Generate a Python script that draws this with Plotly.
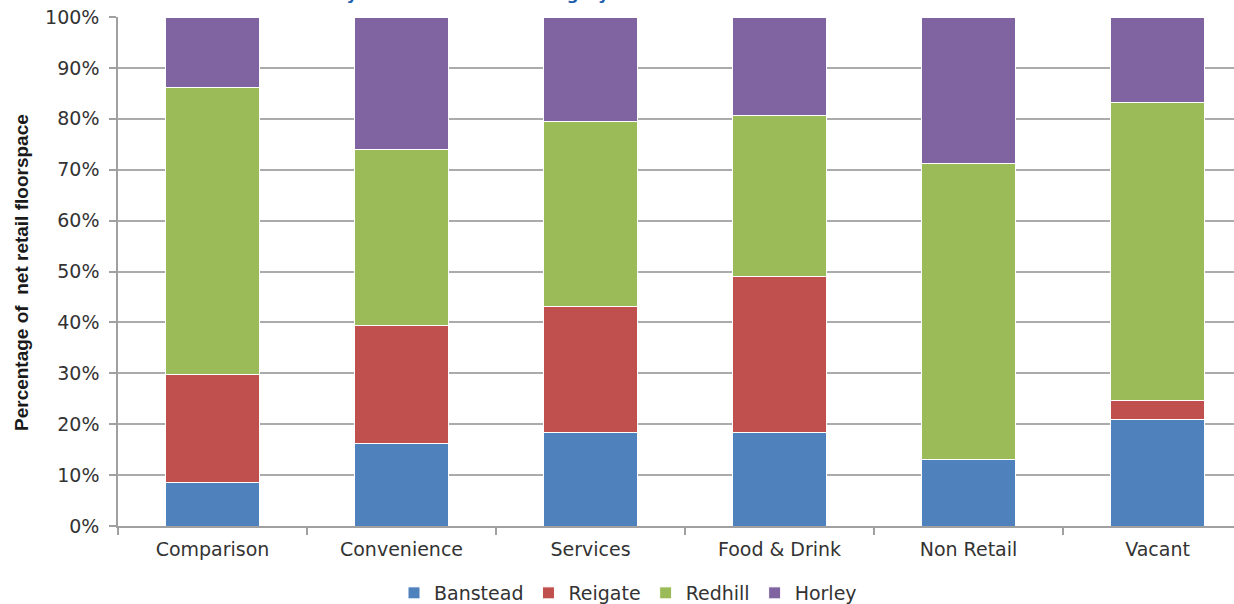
import plotly.graph_objects as go

# Share of net retail floorspace (%) by use category, split by town centre
categories = ["Comparison", "Convenience", "Services", "Food & Drink", "Non Retail", "Vacant"]
banstead = [8.6, 16.3, 18.4, 18.4, 13.1, 20.9]
reigate = [21.2, 23.0, 24.7, 30.7, 0.0, 3.7]
redhill = [56.3, 34.7, 36.4, 31.6, 58.1, 58.6]
horley = [13.9, 26.0, 20.5, 19.3, 28.8, 16.8]

series = [
    ("Banstead", banstead, "#4F81BD"),
    ("Reigate", reigate, "#C0504D"),
    ("Redhill", redhill, "#9BBB59"),
    ("Horley", horley, "#8064A2"),
]

W, H = 1234, 604
LEFT, TOP, BOTTOM = 118, 17, 78
plot_h = H - TOP - BOTTOM
plot_w = W - LEFT
cat_px = 189  # width of one category band in pixels

label_font = dict(family="DejaVu Sans", size=19, color="#333333")
axis_grey = "#A0A0A0"

fig = go.Figure()
for name, vals, colour in series:
    fig.add_trace(go.Bar(
        x=categories, y=vals, name=name,
        marker=dict(color=colour, line=dict(color="white", width=1)),
    ))

fig.update_layout(
    width=W, height=H,
    barmode="stack", bargap=0.5,
    plot_bgcolor="white", paper_bgcolor="white",
    margin=dict(l=LEFT, r=0, t=TOP, b=BOTTOM, pad=0),
    font=label_font,
    showlegend=True,
    legend=dict(
        orientation="h", xref="container", yref="container",
        x=628 / W, xanchor="center", y=(H - 593) / H, yanchor="middle",
        font=label_font, itemwidth=30, traceorder="normal",
    ),
)

fig.update_xaxes(
    type="category", categoryorder="array", categoryarray=categories,
    range=[-0.5, -0.5 + plot_w / cat_px],
    showline=True, linecolor=axis_grey, linewidth=1.5,
    ticks="outside", tickson="boundaries", ticklen=7, tickcolor=axis_grey, tickwidth=1.5,
    showgrid=False, tickfont=label_font, ticklabelstandoff=5,
)

fig.update_yaxes(
    range=[0, 100], dtick=10, ticksuffix="%",
    showline=True, linecolor=axis_grey, linewidth=1.5,
    ticks="outside", ticklen=7, tickcolor=axis_grey, tickwidth=1.5,
    showgrid=True, gridcolor="#ABABAB", gridwidth=1.5,
    zeroline=False, tickfont=label_font, ticklabelstandoff=6,
)

# Vertical axis title
fig.add_annotation(
    text="Percentage of &nbsp;net retail floorspace",
    xref="paper", yref="paper",
    x=(21 - LEFT) / plot_w, y=(526 - 273) / plot_h,
    xanchor="center", yanchor="middle", textangle=-90, showarrow=False,
    font=dict(family="Liberation Sans", size=19, color="#1A1A1A", weight="bold"),
)

# Chart heading running off the top edge of the page
fig.add_annotation(
    text="Net Retail Area by Town Centre and Category",
    xref="paper", yref="paper",
    x=(185 - LEFT) / plot_w, y=(526 - 6) / plot_h,
    xanchor="left", yanchor="bottom", showarrow=False,
    font=dict(family="DejaVu Sans", size=16.5, color="#1F5FAF", weight="bold"),
)

fig.write_html("out.html")
